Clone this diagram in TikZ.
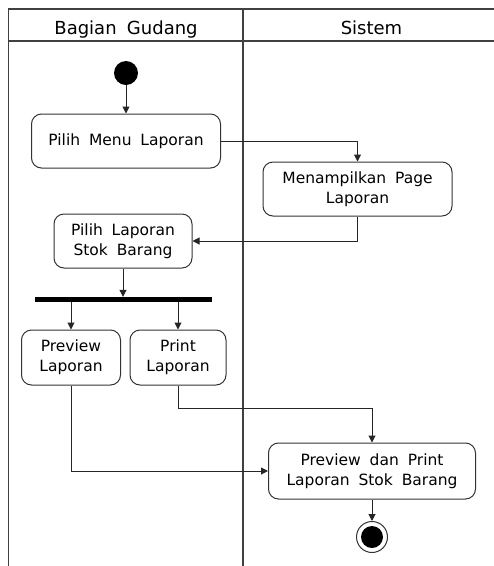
\documentclass[tikz,border=0pt]{standalone}
\usepackage{fontspec}
\setmainfont{DejaVu Sans}[WordSpace=1.8]
\usetikzlibrary{arrows.meta}
\begin{document}
\begin{tikzpicture}[x=1pt,y=-1pt,
  act/.style={draw=black!80, line width=1pt, rounded corners=10pt, fill=white, align=center,
    font=\fontsize{15.5}{20}\selectfont, inner sep=0pt},
  flow/.style={draw=black!85, line width=1pt, -{Triangle[length=7pt,width=7pt]}},
  lane/.style={draw=black!75, line width=1.3pt},
  head/.style={font=\fontsize{18}{22}\selectfont, anchor=base, inner sep=0pt}]
\useasboundingbox (0,0) rectangle (494,566);
% swimlanes
\draw[lane] (494,9) -- (8.5,9) -- (8.5,566);
\draw[lane] (8.5,41) -- (494,41);
\draw[lane] (243,9) -- (243,566);
\node[head] (h1) at (126,34.3) {Bagian Gudang};
\node[head] (h2) at (371.5,34.3) {Sistem};
% nodes
\node[circle, fill=black, minimum size=24pt, inner sep=0pt] (start) at (126,73) {};
\node[act, minimum width=189pt, minimum height=54pt] (m1) at (126,141) {Pilih Menu Laporan};
\node[act, minimum width=189pt, minimum height=54pt] (m2) at (357.5,189) {Menampilkan Page\\Laporan};
\node[act, minimum width=138pt, minimum height=54pt] (m3) at (123,241) {Pilih Laporan\\Stok Barang};
\node[fill=black, minimum width=177pt, minimum height=5pt, inner sep=0pt] (bar) at (123.5,299.5) {};
\node[act, minimum width=99pt, minimum height=55pt] (p1) at (71,357.5) {Preview\\Laporan};
\node[act, minimum width=96pt, minimum height=55pt] (p2) at (178,357.5) {Print\\Laporan};
\node[act, minimum width=207pt, minimum height=56pt] (m4) at (372,471) {Preview dan Print\\Laporan Stok Barang};
\node[circle, draw=black!80, line width=1pt, fill=white, minimum size=31pt, inner sep=0pt] (end) at (372,537) {};
\node[circle, fill=black, minimum size=22pt, inner sep=0pt] (endin) at (end) {};
% connectors
\draw[flow] (start) -- (m1);
\draw[flow] (m1.east) -| (m2.north);
\draw[flow] (m2.south) |- (m3.east);
\draw[flow] (m3.south) -- (m3.south |- bar.north);
\draw[flow] (bar.south -| p1.north) -- (p1.north);
\draw[flow] (bar.south -| p2.north) -- (p2.north);
\draw[flow] (p2.south) -- ++(0,23) -| (m4.north);
\draw[flow] (p1.south) |- (m4.west);
\draw[flow] (m4.south) -- (end.north);
\end{tikzpicture}
\end{document}
